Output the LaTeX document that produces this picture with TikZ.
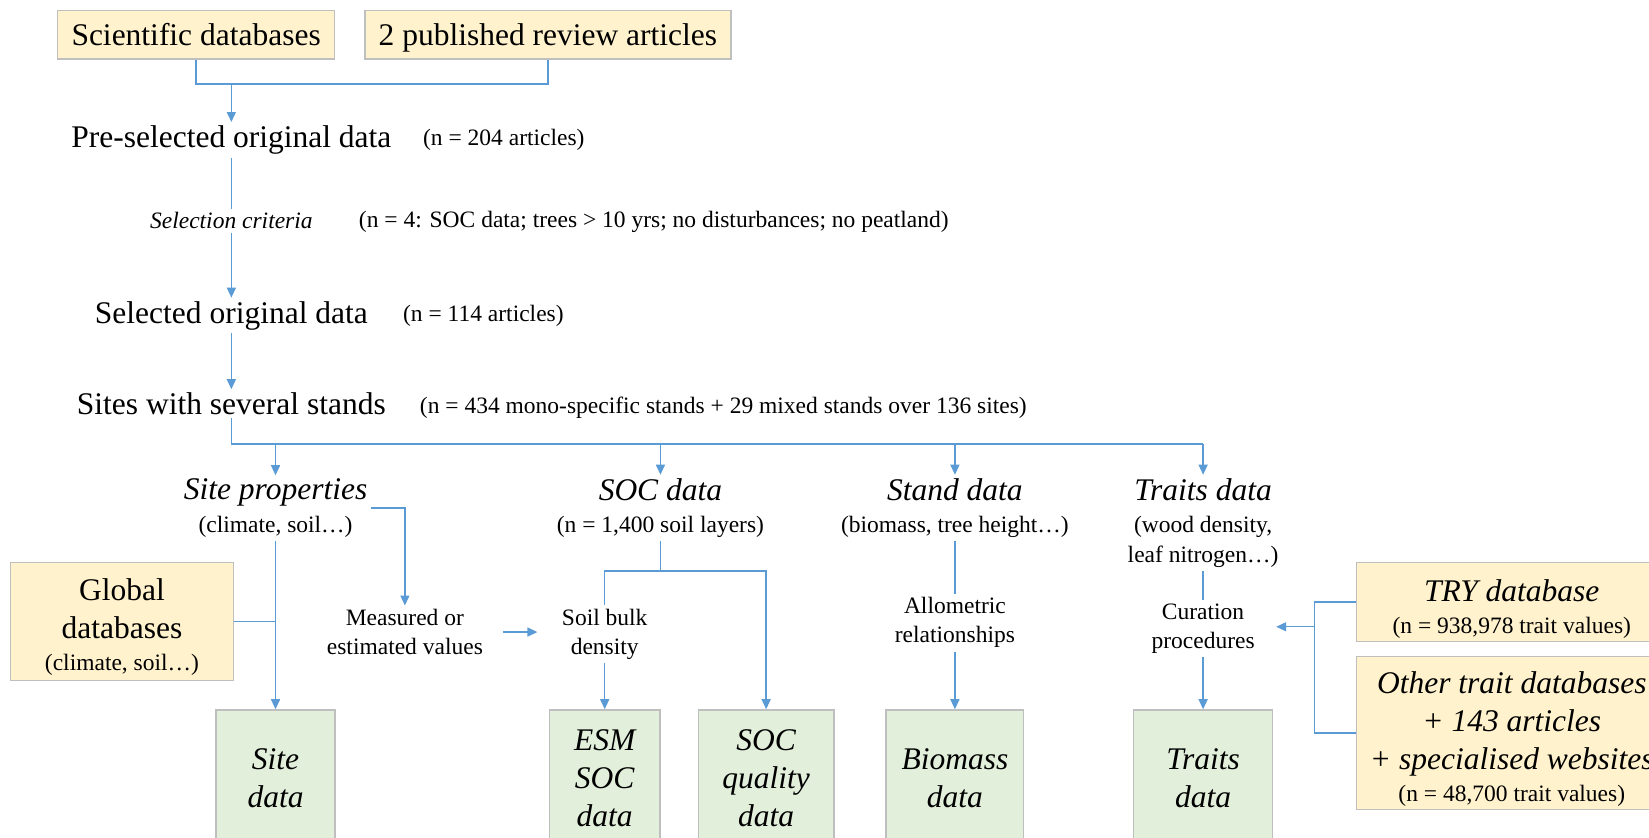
\documentclass[tikz,border=0pt]{standalone}
\usepackage{fontspec}
\setmainfont{Liberation Serif}
\usetikzlibrary{arrows.meta}
\definecolor{srcfill}{HTML}{FFF2CC}
\definecolor{resfill}{HTML}{E2EFDA}
\definecolor{boxline}{HTML}{BFBFBF}
\definecolor{link}{HTML}{5B9BD5}
\newcommand{\fbig}{\fontsize{31.5}{38}\selectfont}
\newcommand{\fsmall}{\fontsize{23.5}{29.5}\selectfont}

\begin{document}
\begin{tikzpicture}[x=1.0517pt,y=-1.0517pt]
      \tikzstyle{srcbox}=[draw=boxline,fill=srcfill,line width=1.3pt,align=center,font=\fbig]
      \tikzstyle{outbox}=[draw=boxline,fill=resfill,line width=1.3pt,align=center,font=\fbig\itshape,minimum height=136.7pt]
      \tikzstyle{bigtxt}=[font=\fbig]
      \tikzstyle{smalltxt}=[font=\fsmall,align=center]
      \tikzstyle{conn}=[draw=link,line width=1.4pt]
      \tikzstyle{arr}=[conn,-{Triangle[length=10pt,width=9pt]}]
      \useasboundingbox (0,0) rectangle (1568,796);

      % sources and selection
      \node[srcbox,text height=22pt,text depth=0pt,minimum width=276.6pt,minimum height=48.4pt] (sci) at (186.5,33) {Scientific databases};
      \node[srcbox,text height=22pt,text depth=0pt,minimum width=366pt,minimum height=48.4pt] (rev) at (521,33) {2 published review articles};
      \node[bigtxt] (pre) at (220,133) {Pre-selected original data};
      \node[smalltxt,anchor=west] (pren) at (399,133) {(n = 204 articles)};
      \node[smalltxt,font=\fsmall\itshape] (selcrit) at (220,210) {Selection criteria};
      \node[smalltxt,anchor=west] (selcritn) at (338,211) {(n = 4: SOC data; trees > 10 yrs; no disturbances; no peatland)};
      \node[bigtxt] (sel) at (220,300) {Selected original data};
      \node[smalltxt,anchor=west] (seln) at (380,300) {(n = 114 articles)};
      \node[bigtxt] (sites) at (220,384) {Sites with several stands};
      \node[smalltxt,anchor=west] (sitesn) at (396,388) {(n = 434 mono-specific stands + 29 mixed stands over 136 sites)};

      % data types
      \node[smalltxt] (siteprop) at (262,483) {{\fbig\itshape Site properties}\\[3pt](climate, soil…)};
      \node[smalltxt] (socd) at (628,483) {{\fbig\itshape SOC data}\\[3pt](n = 1,400 soil layers)};
      \node[smalltxt] (standd) at (908,483) {{\fbig\itshape Stand data}\\[3pt](biomass, tree height…)};
      \node[smalltxt] (traitd) at (1144,497) {{\fbig\itshape Traits data}\\[3pt](wood density,\\leaf nitrogen…)};

      \node[smalltxt] (meas) at (385,601) {Measured or\\estimated values};
      \node[smalltxt] (sbd) at (575,603) {Soil bulk\\density};
      \node[smalltxt] (allo) at (908,592) {Allometric\\relationships};
      \node[smalltxt] (cur) at (1144,598) {Curation\\procedures};

      \node[srcbox,minimum width=223pt,minimum height=117.8pt] (glob) at (116,591) {\rule{0pt}{32pt}Global\\databases\\[-6pt]{\fsmall (climate, soil…)}};
      \node[srcbox,font=\fbig\itshape,minimum width=310.3pt,minimum height=78.9pt] (try) at (1437.5,572.5) {\rule{0pt}{35pt}TRY database\\[-6pt]{\fsmall\upshape (n = 938,978 trait values)}};
      \node[srcbox,font=\fbig\itshape,minimum width=310.3pt,minimum height=153.5pt] (other) at (1437.5,697) {\rule{0pt}{33pt}Other trait databases\\+ 143 articles\\+ specialised websites\\[-6pt]{\fsmall\upshape (n = 48,700 trait values)}};

      % output data
      \node[outbox,minimum width=118.8pt] (sitedata) at (262,740) {Site\\data};
      \node[outbox,minimum width=110.4pt] (esm) at (575,740) {ESM\\SOC\\data};
      \node[outbox,minimum width=135.7pt] (socq) at (728.5,740) {SOC\\quality\\data};
      \node[outbox,minimum width=137.8pt] (bio) at (908,740) {Biomass\\data};
      \node[outbox,minimum width=138.8pt] (traitsbox) at (1144,740) {Traits\\data};

      % connectors
      \coordinate (top) at (220,80);
      \draw[conn] (sci.south) |- (top) -| (rev.south);
      \draw[arr] (top) -- (pre.north);
      \draw[conn] (pre.south) -- (selcrit.north);
      \draw[arr] (selcrit.south) -- (sel.north);
      \draw[arr] (sel.south) -- (sites.north);
      \coordinate (bus) at (220,422);
      \draw[conn] (sites.south) -- (bus) -- (bus -| traitd.north);
      \foreach \n in {siteprop,socd,standd,traitd}
        \draw[arr] (bus -| \n.north) -- (\n.north);

      \draw[arr] (siteprop.east) -| (meas.north);
      \draw[arr] (siteprop.south) -- (sitedata.north);
      \draw[conn] (glob.east) -- (glob.east -| siteprop.south);
      \draw[arr,shorten <=17pt,shorten >=21pt] (meas.east) -- (meas.east -| sbd.west);

      \coordinate (brk) at (628,543);
      \draw[conn] (socd.south) -- (brk);
      \draw[arr] (sbd.north) |- (brk -| socq.north) -- (socq.north);
      \draw[arr] (sbd.south) -- (esm.north);

      \draw[conn] (standd.south) -- (allo.north);
      \draw[arr] (allo.south) -- (bio.north);
      \draw[conn] (traitd.south) -- (cur.north);
      \draw[arr] (cur.south) -- (traitsbox.north);

      \coordinate (jn) at (1250,596);
      \draw[conn] (try.west) -| (jn) |- (other.west);
      \draw[arr,shorten >=18pt] (jn) -- (jn -| cur.east);
\end{tikzpicture}
\end{document}
